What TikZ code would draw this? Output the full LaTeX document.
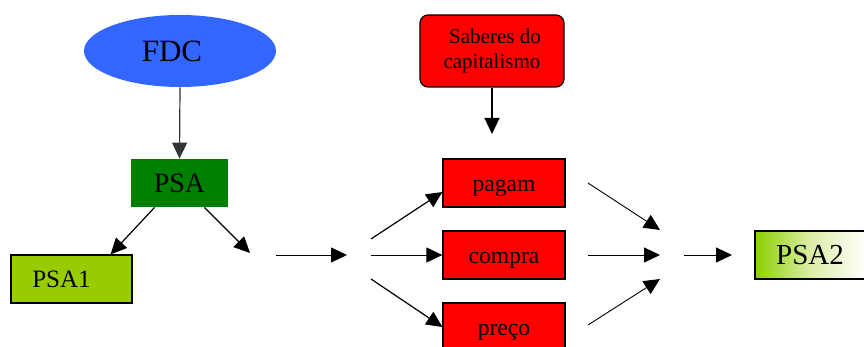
\documentclass[tikz,border=0pt]{standalone}
\usepackage{fontspec}
\setmainfont{Liberation Serif}
\usetikzlibrary{arrows.meta,shapes.geometric}

\definecolor{fdcblue}{HTML}{3366FF}
\definecolor{psagreen}{HTML}{008000}
\definecolor{limegreen}{HTML}{99CC00}

\begin{document}
\begin{tikzpicture}[x=0.5pt, y=-0.5pt,
    treenode/.style = {align=center, inner sep=1pt, text centered},
    rbox/.style = {treenode, rectangle, fill=red, draw=black, line width=0.6pt,
        minimum width=61pt, minimum height=24pt, text height=9pt, text depth=0pt,
        font=\fontsize{11.8}{14}\selectfont},
    gbox/.style = {treenode, rectangle, draw=black, line width=0.6pt,
        minimum height=24pt},
    arr/.style = {-{Triangle[length=8pt,width=7.5pt]}, line width=0.6pt},
    tarr/.style = {-{Triangle[length=8pt,width=7.5pt]}, line width=0.45pt}]
    \useasboundingbox (0,0) rectangle (864,347);

    % left part
    \node [treenode, ellipse, fill=fdcblue, minimum width=96pt, minimum height=36pt,
        font=\fontsize{15.5}{18}\selectfont] (fdc) at (180,51) {FDC\hspace{8pt}};
    \node [treenode, rectangle, fill=psagreen, minimum width=48.5pt, minimum height=24pt,
        font=\fontsize{14}{16}\selectfont] (psa) at (179.5,183) {PSA};
    \node [gbox, fill=limegreen, minimum width=60.5pt,
        font=\fontsize{12.5}{15}\selectfont] (psa1) at (71.5,279) {PSA1\hspace{10pt}};
    \coordinate (a1) at (250,253);
    \coordinate (b0) at (276,255);
    \coordinate (b1) at (347,255);

    \draw [arr, black!80] (fdc.south) -- (psa.north);
    \draw [arr] ([xshift=12pt]psa.south west) -- ([xshift=-11pt]psa1.north east);
    \draw [arr] ([xshift=-12pt]psa.south east) -- (a1);
    \draw [tarr] (b0) -- (b1);

    % middle part
    \node [treenode, rectangle, rounded corners=4pt, fill=red, draw=black, line width=0.6pt,
        minimum width=72pt, minimum height=36pt,
        font=\fontsize{10.5}{12.5}\selectfont] (saberes) at (492,51) {\hspace{3pt}Saberes do\\capitalismo};
    \coordinate (s1) at (492,134);
    \node [rbox] (pagam) at (504,183) {pagam};
    \node [rbox] (compra) at (504,255) {compra};
    \node [rbox] (preco) at (504,327) {preço};
    \coordinate (c1) at (371,239);
    \coordinate (c2) at (371,255);
    \coordinate (c3) at (371,279);

    \draw [arr] (saberes.south) -- (s1);
    \draw [arr] (c1) -- ([yshift=-4.5pt]pagam.west);
    \draw [tarr] (c2) -- (compra.west);
    \draw [arr] (c3) -- (preco.west);

    % right part
    \coordinate (d1) at (588,183);
    \coordinate (d2) at (588,255);
    \coordinate (d3) at (588,325);
    \coordinate (e1) at (660,230);
    \coordinate (e2) at (660,255);
    \coordinate (e3) at (660,279);
    \coordinate (f0) at (684,255);
    \coordinate (f1) at (732,255);
    \node [gbox, left color=limegreen!90!green, right color=white, middle color=limegreen!35,
        minimum width=55pt, font=\fontsize{14.5}{17}\selectfont] (psa2) at (810,255) {PSA2};

    \draw [tarr] (d1) -- (e1);
    \draw [tarr] (d2) -- (e2);
    \draw [tarr] (d3) -- (e3);
    \draw [tarr] (f0) -- (f1);
\end{tikzpicture}
\end{document}
